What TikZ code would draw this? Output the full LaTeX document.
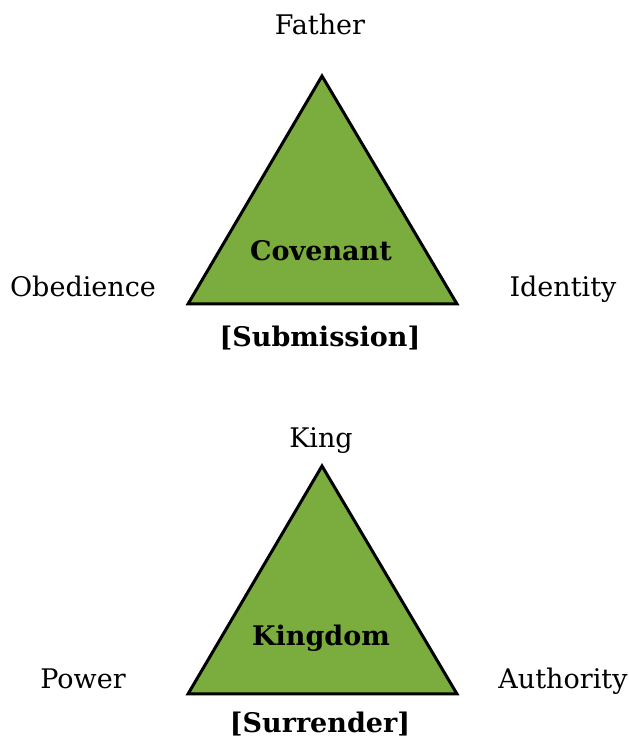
\documentclass[tikz,border=0pt]{standalone}
\usepackage{fontspec}
\setmainfont{DejaVu Serif}
\usepackage{tikz}

\definecolor{leafgreen}{RGB}{122,172,62}

\begin{document}
\begin{tikzpicture}[x=1pt, y=1pt,
    every node/.style={anchor=base, inner sep=0pt, font=\fontsize{27}{30}\selectfont},
    tri/.style={fill=leafgreen, draw=black, line width=3pt},
    title/.style={font=\fontsize{27}{30}\selectfont\bfseries}]
  \useasboundingbox (0,0) rectangle (629,740);

  % covenant triangle
  \coordinate (ctop) at (322,664);
  \coordinate (cleft) at (188,436);
  \coordinate (cright) at (457,436);
  \draw[tri] (ctop) -- (cright) -- (cleft) -- cycle;
  \node[title] (covenant) at (321,479) {Covenant};
  \node (father) at (320,705) {Father};
  \node (obedience) at (83,443) {Obedience};
  \node (identity) at (563,443) {Identity};
  \node[title] (submission) at (320,393) {[Submission]};

  % kingdom triangle
  \coordinate (ktop) at (322,274);
  \coordinate (kleft) at (188,46);
  \coordinate (kright) at (457,46);
  \draw[tri] (ktop) -- (kright) -- (kleft) -- cycle;
  \node[title] (kingdom) at (321,94) {Kingdom};
  \node (king) at (321,292) {King};
  \node (power) at (83,51) {Power};
  \node (authority) at (563,51) {Authority};
  \node[title] (surrender) at (320,8) {[Surrender]};
\end{tikzpicture}
\end{document}
